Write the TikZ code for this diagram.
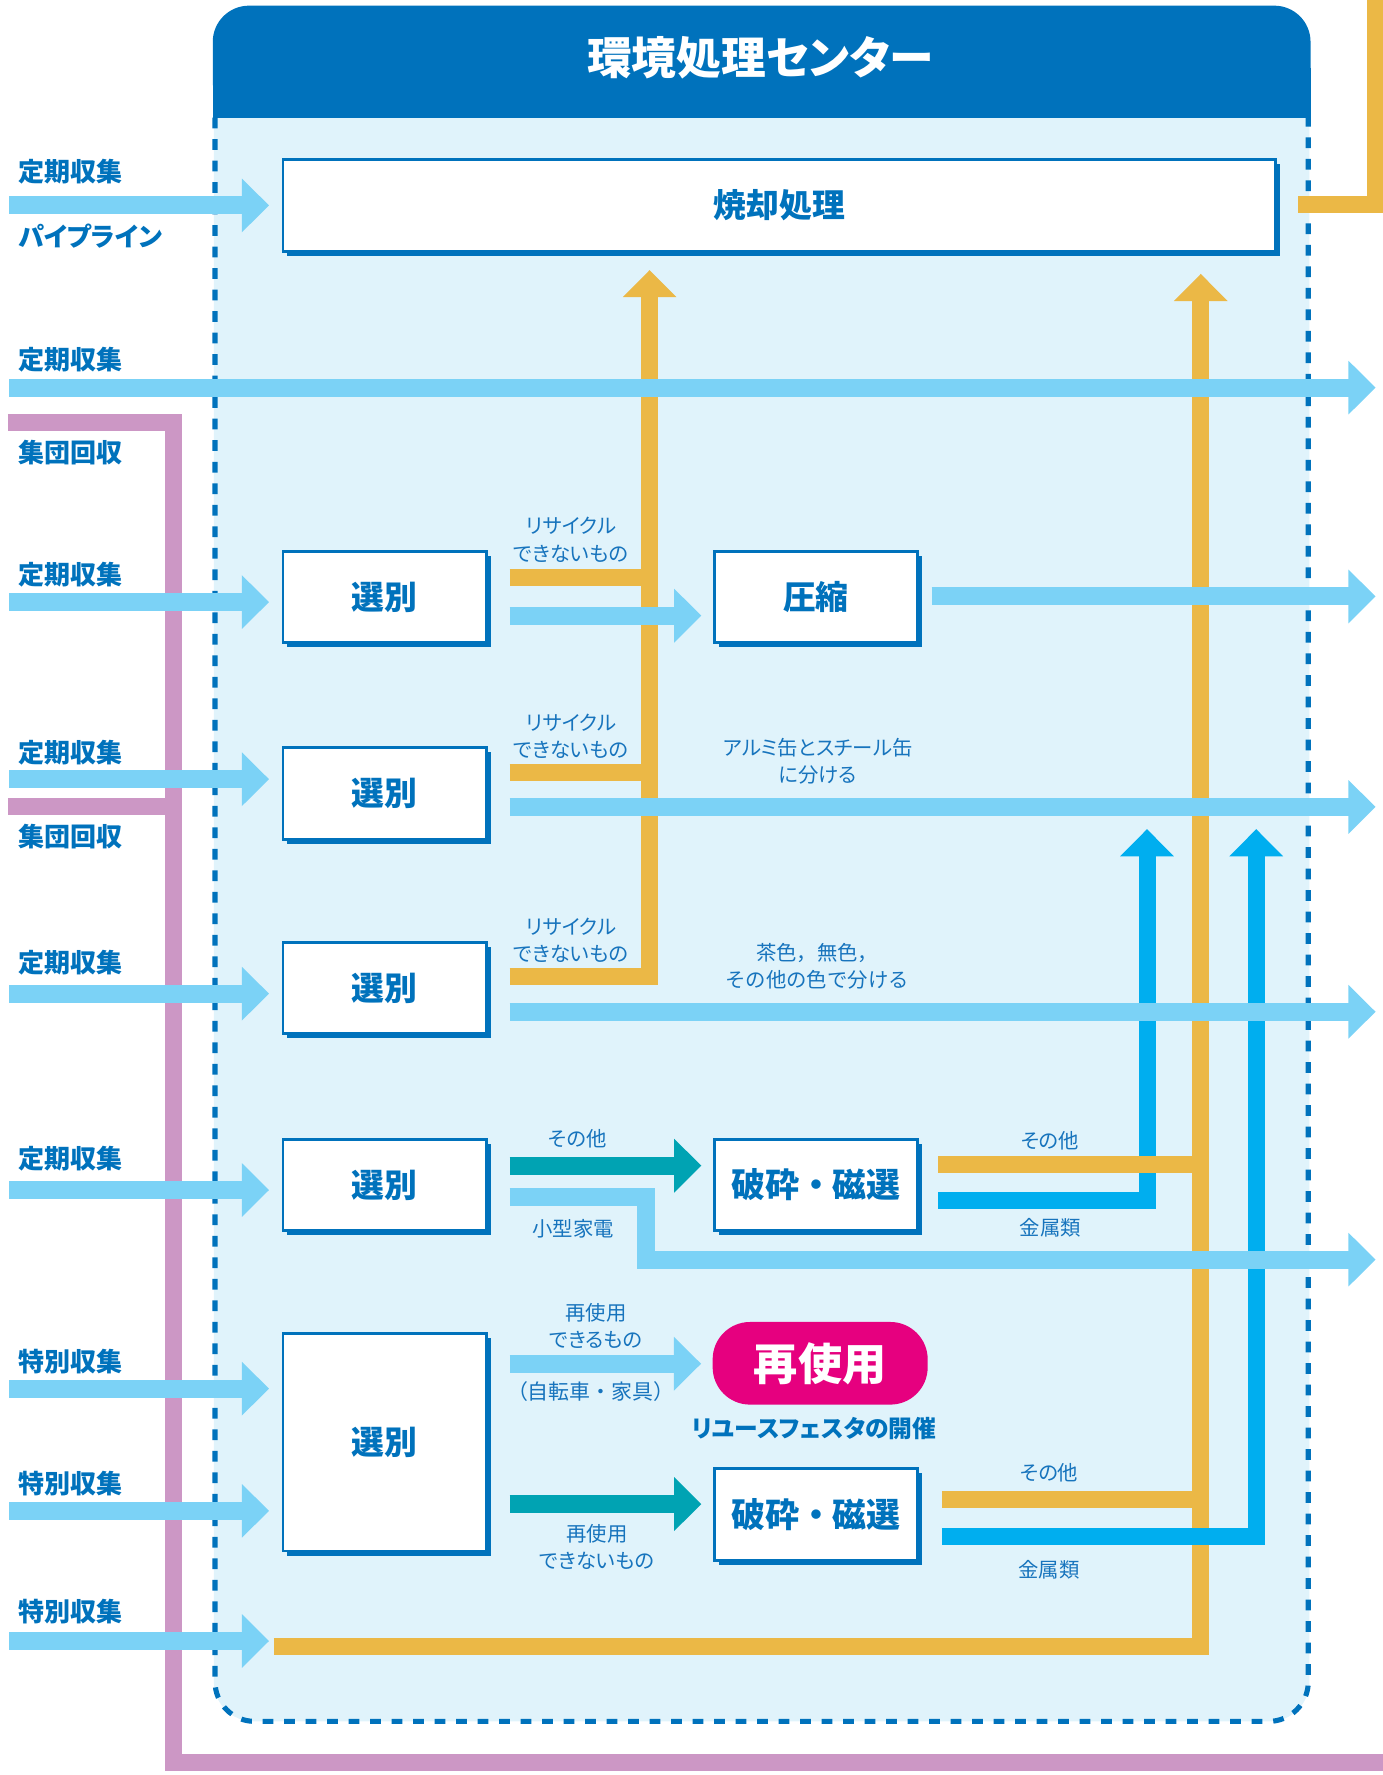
\documentclass[tikz,border=0pt]{standalone}
\usepackage{fontspec}
\newfontfamily\jp{Noto Sans CJK JP}[RawFeature=+palt]
\newfontfamily\jpw{Noto Sans CJK JP}
\usetikzlibrary{arrows.meta,shadows}

\definecolor{hdblue}{HTML}{0072BC}
\definecolor{txtblue}{HTML}{1774BD}
\definecolor{panelbg}{HTML}{E0F3FB}
\definecolor{lblue}{HTML}{7BD2F6}
\definecolor{ylw}{HTML}{EBB846}
\definecolor{cyn}{HTML}{00AEEF}
\definecolor{tealgr}{HTML}{00A3B3}
\definecolor{purp}{HTML}{CC97C5}
\definecolor{mgnt}{HTML}{E6007F}

\tikzset{
  box/.style={draw=hdblue, line width=2.5, fill=white, text=hdblue, inner sep=0,
    minimum width=180, minimum height=81, font=\jp\bfseries\fontsize{29}{31}\selectfont,
    drop shadow={shadow xshift=4pt, shadow yshift=-4pt, fill=hdblue, opacity=1}},
  pill/.style={fill=mgnt, text=white, rounded corners=33, inner sep=0,
    minimum width=190, minimum height=73, font=\jp\bfseries\fontsize{39}{41}\selectfont},
  lbl/.style={text=hdblue, anchor=west, inner sep=0, font=\jp\bfseries\fontsize{23}{25}\selectfont},
  note/.style={text=txtblue, align=center, inner sep=0, font=\jp\fontsize{18}{24}\selectfont},
  fat/.style={line width=16, -{Triangle[length=24pt, width=46pt]}},
  lbarrow/.style={fat, draw=lblue},
  tlarrow/.style={fat, draw=tealgr},
  ylarrow/.style={fat, draw=ylw, line width=15},
  cyarrow/.style={fat, draw=cyn, line width=15},
  ybar/.style={draw=ylw, line width=15},
  pbar/.style={draw=purp, line width=15},
}

\begin{document}
\begin{tikzpicture}[x=1pt, y=-1pt]
  %%%%% START %%%%%
  \useasboundingbox (0,0) rectangle (1222,1568.4);

  % centre
  \fill[panelbg, rounded corners=35] (189,60) rectangle (1157,1521);
  \fill[hdblue, rounded corners=32] (188,5) rectangle (1158,104);
  \fill[hdblue] (188,60) rectangle (1158,104);
  \draw[hdblue, line width=4.5, dash pattern=on 9.5pt off 9.5pt, rounded corners=35]
    (190,104) -- (190,1521) -- (1156,1521) -- (1156,104);
  \node[text=white, font=\jp\bfseries\fontsize{39.5}{41}\selectfont] (ttl) at (672,51) {環境処理センター};

  % boxes
  \node[box, minimum width=877] (shokyaku) at (688.5,181.5) {焼却処理};
  \node[box] (senA) at (340,527.5) {選別};
  \node[box] (assh) at (721,527.5) {圧縮};
  \node[box] (senB) at (340,701) {選別};
  \node[box] (senC) at (340,873) {選別};
  \node[box] (senD) at (340,1047) {選別};
  \node[box, font=\jpw\bfseries\fontsize{30}{32}\selectfont] (hasaiA) at (721,1047) {破砕・磁選};
  \node[box, minimum height=192] (senE) at (340,1274.5) {選別};
  \node[pill] (saishiyo) at (724.7,1204.6) {再使用};
  \node[box, font=\jpw\bfseries\fontsize{30}{32}\selectfont] (hasaiB) at (721,1338) {破砕・磁選};

  % group collection
  \draw[pbar] (7,373) -- (153.5,373) -- (153.5,1557) -- (1230,1557);
  \draw[pbar] (7,712.5) -- (153.5,712.5);

  % metals (1)
  \draw[cyarrow, shorten <=17pt] (hasaiA.east |- 0,1061) -- (1013.5,1061) -- (1013.5,732.6);

  % not recyclable
  \coordinate (yupA) at (574,238.6);
  \coordinate (yupB) at (1061,242);
  \draw[ybar, shorten <=19pt] (senA.east |- 0,510.5) -- (yupA |- 0,510.5);
  \draw[ybar, shorten <=19pt] (senB.east |- 0,683) -- (yupA |- 0,683);
  \draw[ylarrow, shorten <=19pt] (senC.east |- 0,863) -- (yupA |- 0,863) -- (yupA);
  \draw[ybar, shorten <=17pt] (hasaiA.east |- 0,1029) -- (yupB |- 0,1029);
  \draw[ybar, shorten <=20pt] (hasaiB.east |- 0,1325) -- (yupB |- 0,1325);
  \draw[ylarrow] (242,1455) -- (yupB |- 0,1455) -- (yupB);
  \draw[ybar, shorten <=19pt] (shokyaku.east |- 0,181) -- (1215.5,181) -- (1215.5,-10);

  % metals (2)
  \draw[cyarrow, shorten <=20pt] (hasaiB.east |- 0,1358) -- (1110,1358) -- (1110,732.6);

  % inputs
  \draw[lbarrow, shorten >=11pt] (8,181.5) -- (shokyaku.west);
  \draw[lbarrow] (8,342.5) -- (1215.5,342.5);
  \draw[lbarrow, shorten >=11pt] (8,532) -- (senA.west |- 0,532);
  \draw[lbarrow, shorten >=11pt] (8,688.5) -- (senB.west |- 0,688.5);
  \draw[lbarrow, shorten >=11pt] (8,878) -- (senC.west |- 0,878);
  \draw[lbarrow, shorten >=11pt] (8,1051.5) -- (senD.west |- 0,1051.5);
  \draw[lbarrow, shorten >=11pt] (8,1227) -- (senE.west |- 0,1227);
  \draw[lbarrow, shorten >=11pt] (8,1335) -- (senE.west |- 0,1335);
  \draw[lbarrow, shorten >=11pt] (8,1450) -- (senE.west |- 0,1450);

  % outputs
  \draw[lbarrow, shorten <=19pt, shorten >=10pt] (senA.east |- 0,544) -- (assh.west |- 0,544);
  \draw[lbarrow, shorten <=11pt] (assh.east |- 0,527) -- (1215.5,527);
  \draw[lbarrow, shorten <=19pt] (senB.east |- 0,713) -- (1215.5,713);
  \draw[lbarrow, shorten <=19pt] (senC.east |- 0,894) -- (1215.5,894);
  \draw[tlarrow, shorten <=19pt, shorten >=10pt] (senD.east |- 0,1030) -- (hasaiA.west |- 0,1030);
  \draw[lbarrow, shorten <=19pt] (senD.east |- 0,1057.5) -- (570.7,1057.5) -- (570.7,1113) -- (1215.5,1113);
  \draw[lbarrow, shorten <=19pt, shorten >=10pt] (senE.east |- 0,1205) -- (saishiyo.west |- 0,1205);
  \draw[tlarrow, shorten <=19pt, shorten >=10pt] (senE.east |- 0,1329) -- (hasaiB.west |- 0,1329);

  % left labels
  \node[lbl] (lt1) at (16,152) {定期収集};
  \node[lbl] (lt2) at (16,208.5) {パイプライン};
  \node[lbl] (lt3) at (16,318) {定期収集};
  \node[lbl] (lt4) at (16,400) {集団回収};
  \node[lbl] (lt5) at (16,508) {定期収集};
  \node[lbl] (lt6) at (16,665) {定期収集};
  \node[lbl] (lt7) at (16,739) {集団回収};
  \node[lbl] (lt8) at (16,851) {定期収集};
  \node[lbl] (lt9) at (16,1024) {定期収集};
  \node[lbl] (lt10) at (16,1203) {特別収集};
  \node[lbl] (lt11) at (16,1311) {特別収集};
  \node[lbl] (lt12) at (16,1424) {特別収集};

  % notes
  \node[note] (nA) at (504.5,477) {リサイクル\\できないもの};
  \node[note] (nB) at (504.5,650.5) {リサイクル\\できないもの};
  \node[note] (nC) at (504.5,831) {リサイクル\\できないもの};
  \node[note] (nAl) at (722.7,673) {アルミ缶とスチール缶\\に分ける};
  \node[note, font=\jpw\fontsize{18}{24}\selectfont] (nGl) at (722,853.5) {茶色，無色，\\その他の色で分ける};
  \node[note] (nD1) at (510,1006) {その他};
  \node[note] (nD2) at (506.5,1085.4) {小型家電};
  \node[note] (nH1) at (927.7,1008) {その他};
  \node[note] (nH2) at (928,1084.5) {金属類};
  \node[note] (nE1) at (526.5,1171.5) {再使用\\できるもの};
  \node[note, font=\jpw\fontsize{18.5}{24}\selectfont] (nE2) at (522,1229.7) {（自転車・家具）};
  \node[text=hdblue, font=\jp\bfseries\fontsize{21}{23}\selectfont] (fes) at (719.4,1262) {リユースフェスタの開催};
  \node[note] (nE3) at (527.5,1367) {再使用\\できないもの};
  \node[note] (nH3) at (927,1301.4) {その他};
  \node[note] (nH4) at (927,1386.6) {金属類};
  %%%%% END %%%%%
\end{tikzpicture}
\end{document}
